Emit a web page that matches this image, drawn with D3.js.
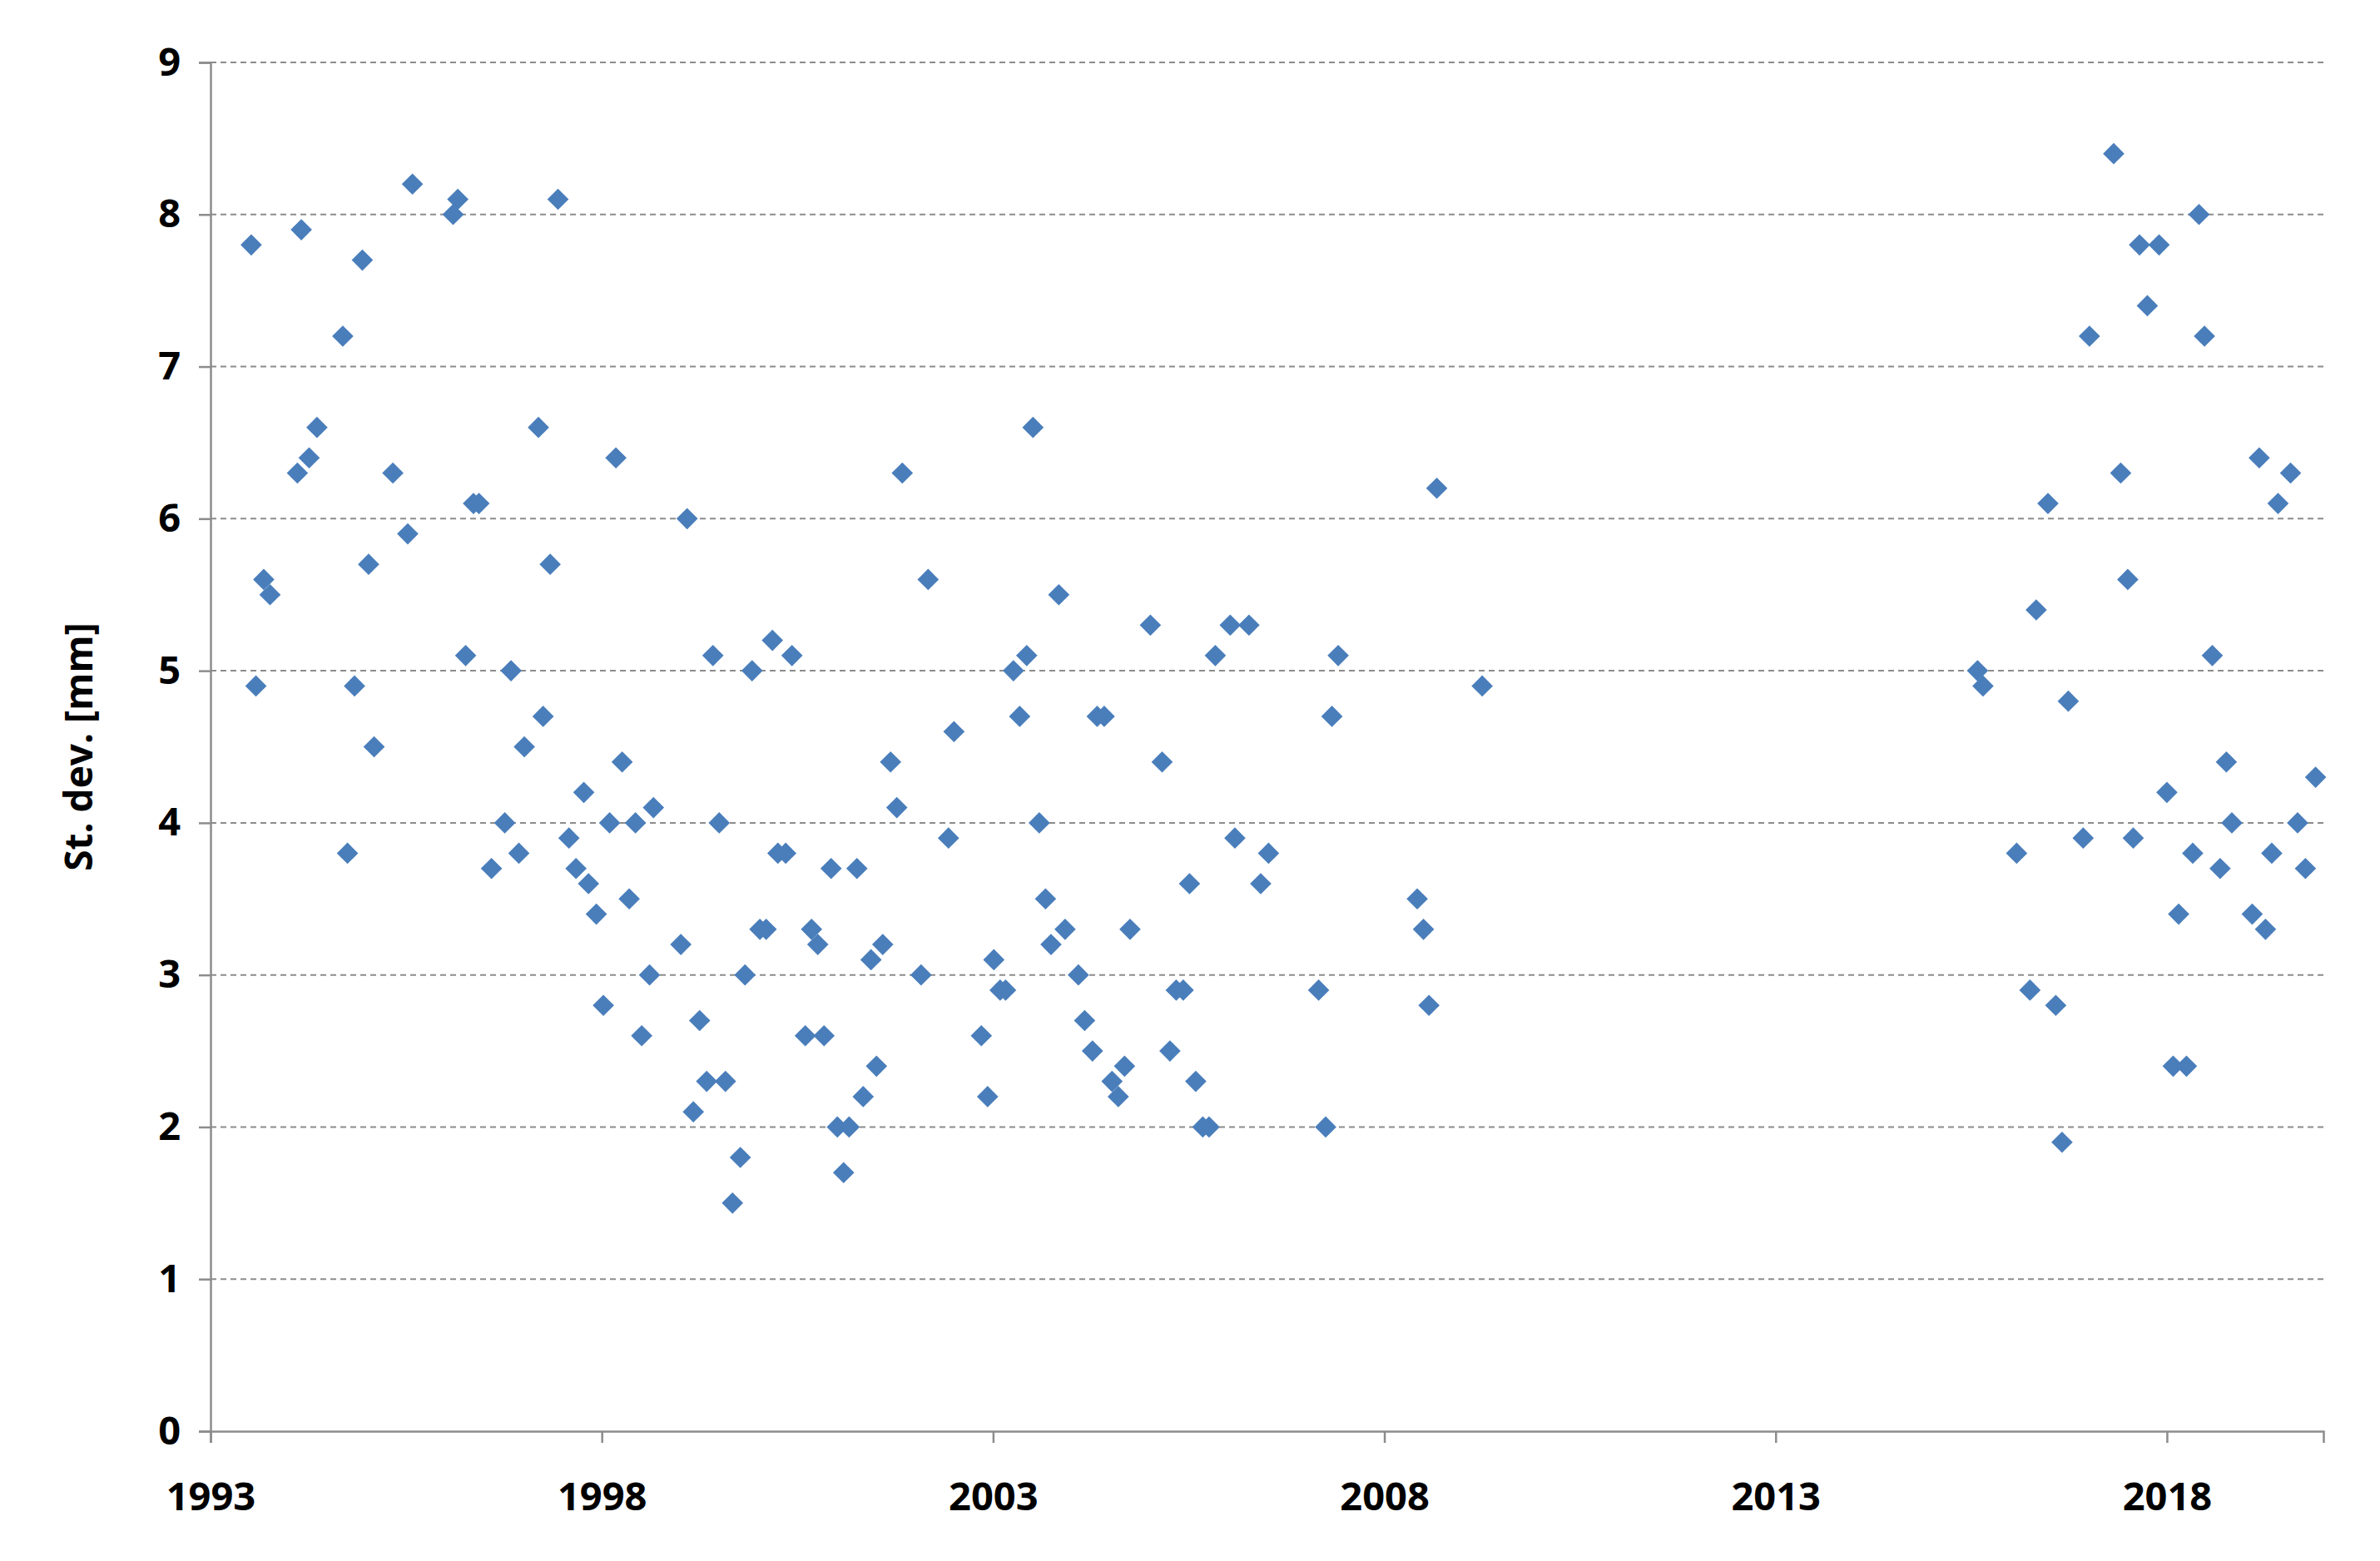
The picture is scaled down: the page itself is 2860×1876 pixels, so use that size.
<html>
<head>
<script src="https://d3js.org/d3.v7.min.js"></script>
<style>
  body { margin: 0; background: #fff; }
  text { font-family: "Open Sans", sans-serif; font-weight: bold; }
</style>
</head>
<body>
<div id="chart"></div>
<script>
// decimal year of each observation
const years = [
  1993.52,1993.58,1993.68,1993.76,1994.11,1994.16,1994.26,1994.36,1994.69,1994.75,1994.84,1994.94,
  1995.02,1995.09,1995.33,1995.52,1995.58,1996.10,1996.16,1996.26,1996.36,1996.43,1996.59,1996.76,
  1996.84,1996.94,1997.01,1997.19,1997.25,1997.34,1997.44,1997.58,1997.67,1997.77,1997.83,1997.93,
  1998.02,1998.10,1998.18,1998.26,1998.35,1998.43,1998.51,1998.61,1998.66,1999.01,1999.09,1999.17,
  1999.25,1999.34,1999.42,1999.50,1999.58,1999.67,1999.77,1999.83,1999.92,2000.02,2000.10,2000.18,
  2000.25,2000.35,2000.43,2000.60,2000.68,2000.76,2000.84,2000.93,2001.01,2001.09,2001.16,2001.26,
  2001.34,2001.44,2001.51,2001.59,2001.69,2001.77,2001.84,2002.08,2002.17,2002.43,2002.50,2002.85,
  2002.93,2003.01,2003.09,2003.16,2003.26,2003.34,2003.43,2003.51,2003.59,2003.67,2003.74,2003.84,
  2003.92,2004.09,2004.17,2004.27,2004.33,2004.42,2004.52,2004.60,2004.68,2004.75,2005.01,2005.16,
  2005.26,2005.34,2005.43,2005.51,2005.59,2005.68,2005.76,2005.84,2006.03,2006.09,2006.27,2006.42,
  2006.52,2007.16,2007.25,2007.33,2007.41,2008.42,2008.50,2008.57,2008.67,2009.25,
  2015.58,2015.65,2016.08,2016.25,2016.33,2016.48,2016.58,2016.66,2016.74,2016.93,2017.01,2017.32,
  2017.41,2017.50,2017.57,2017.65,2017.75,2017.90,2018.00,2018.08,2018.15,2018.25,2018.33,2018.41,
  2018.48,2018.58,2018.68,2018.76,2018.83,2019.09,2019.18,2019.26,2019.34,2019.42,2019.58,2019.67,
  2019.77,2019.90
];
// standard deviation [mm]
const stdev = [
  7.8,4.9,5.6,5.5,6.3,7.9,6.4,6.6,7.2,3.8,4.9,7.7,
  5.7,4.5,6.3,5.9,8.2,8.0,8.1,5.1,6.1,6.1,3.7,4.0,
  5.0,3.8,4.5,6.6,4.7,5.7,8.1,3.9,3.7,4.2,3.6,3.4,
  2.8,4.0,6.4,4.4,3.5,4.0,2.6,3.0,4.1,3.2,6.0,2.1,
  2.7,2.3,5.1,4.0,2.3,1.5,1.8,3.0,5.0,3.3,3.3,5.2,
  3.8,3.8,5.1,2.6,3.3,3.2,2.6,3.7,2.0,1.7,2.0,3.7,
  2.2,3.1,2.4,3.2,4.4,4.1,6.3,3.0,5.6,3.9,4.6,2.6,
  2.2,3.1,2.9,2.9,5.0,4.7,5.1,6.6,4.0,3.5,3.2,5.5,
  3.3,3.0,2.7,2.5,4.7,4.7,2.3,2.2,2.4,3.3,5.3,4.4,
  2.5,2.9,2.9,3.6,2.3,2.0,2.0,5.1,5.3,3.9,5.3,3.6,
  3.8,2.9,2.0,4.7,5.1,3.5,3.3,2.8,6.2,4.9,
  5.0,4.9,3.8,2.9,5.4,6.1,2.8,1.9,4.8,3.9,7.2,8.4,
  6.3,5.6,3.9,7.8,7.4,7.8,4.2,2.4,3.4,2.4,3.8,8.0,
  7.2,5.1,3.7,4.4,4.0,3.4,6.4,3.3,3.8,6.1,6.3,4.0,
  3.7,4.3
];
const xTicks = [1993, 1998, 2003, 2008, 2013, 2018];
const yTicks = [0, 1, 2, 3, 4, 5, 6, 7, 8, 9];

const W = 2860, H = 1876;
const margin = { top: 75, right: 68, bottom: 156, left: 253 };
const width = W - margin.left - margin.right;
const height = H - margin.top - margin.bottom;

const svg = d3.select("#chart").append("svg")
  .attr("width", W).attr("height", H);
const g = svg.append("g")
  .attr("transform", "translate(" + margin.left + "," + margin.top + ")");

const x = d3.scaleLinear().domain([1993, 2020]).range([0, width]);
const y = d3.scaleLinear().domain([0, 9]).range([height, 0]);

// gridlines
g.selectAll(".grid").data(yTicks.filter(d => d > 0)).enter().append("line")
  .attr("x1", 0).attr("x2", width)
  .attr("y1", d => y(d)).attr("y2", d => y(d))
  .attr("stroke", "#8c8c8c").attr("stroke-width", 2)
  .attr("stroke-dasharray", "7,5");

const yAxis = g.append("g")
  .call(d3.axisLeft(y).tickValues(yTicks).tickSize(14).tickPadding(22).tickFormat(d3.format("d")));
const xAxis = g.append("g")
  .attr("transform", "translate(0," + height + ")")
  .call(d3.axisBottom(x).tickValues(xTicks).tickSize(14).tickPadding(48).tickFormat(d3.format("d")));
[xAxis, yAxis].forEach(a => {
  a.selectAll("path, line").attr("stroke", "#8c8c8c").attr("stroke-width", 2.5);
  a.selectAll("text").attr("font-size", 47).attr("fill", "#000");
});

g.append("text")
  .attr("transform", "translate(-142," + height / 2 + ") rotate(-90)")
  .attr("text-anchor", "middle")
  .attr("font-size", 46)
  .text("St. dev. [mm]");

const diamond = d3.symbol().type(d3.symbolDiamond2).size(420);
g.selectAll(".pt").data(years).enter().append("path")
  .attr("d", diamond)
  .attr("transform", (d, i) => "translate(" + x(d) + "," + y(stdev[i]) + ")")
  .attr("fill", "#4a7ebb");
</script>
</body>
</html>
